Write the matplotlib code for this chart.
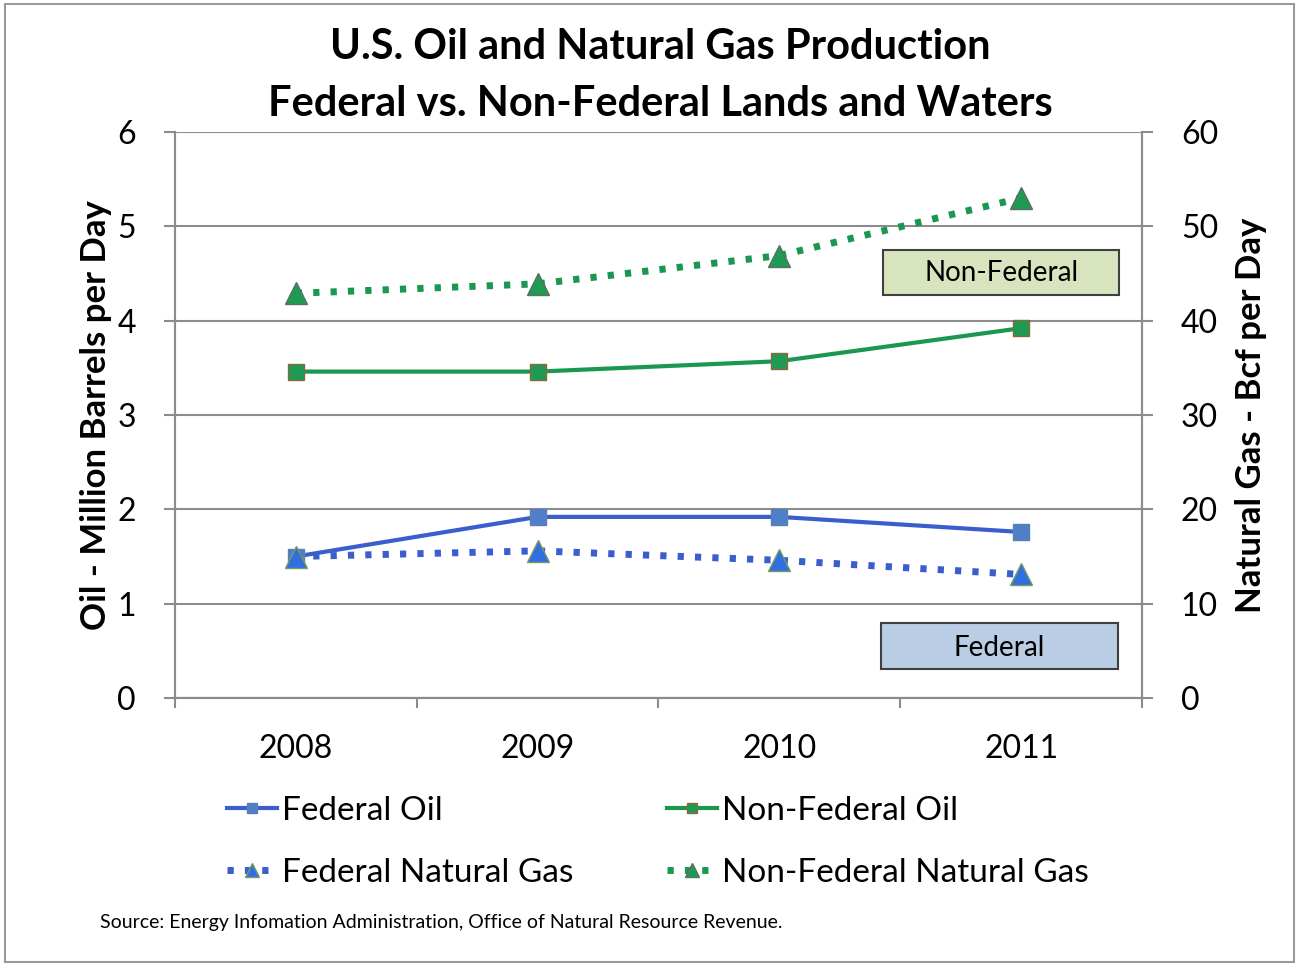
import numpy as np
import matplotlib.pyplot as plt
from matplotlib.patches import Rectangle

plt.rcParams['font.family'] = ['Lato', 'DejaVu Sans']

years = ['2008', '2009', '2010', '2011']
fed_oil = [1.50, 1.92, 1.92, 1.76]
nonfed_oil = [3.46, 3.46, 3.57, 3.92]
fed_gas = [15.0, 15.6, 14.6, 13.1]
nonfed_gas = [42.9, 43.9, 46.9, 53.0]

blue = '#3a5fcd'
blue_mk = '#4f7fc8'
green = '#1a9850'
green_mk = '#1f9a55'
grid_c = '#8c8c8c'

fig = plt.figure(figsize=(12.99, 9.66), dpi=100)
ax = fig.add_axes([0.1347, 0.2774, 0.7444, 0.586])
ax2 = ax.twinx()

x = np.arange(len(years))

l1, = ax.plot(x, fed_oil, color=blue, lw=3, marker='s', ms=11,
              mfc=blue_mk, mec='#5a7fb0', label='Federal Oil', zorder=4)
l2, = ax.plot(x, nonfed_oil, color=green, lw=3, marker='s', ms=11,
              mfc=green_mk, mec='#8a6a3a', label='Non-Federal Oil', zorder=4)
l3, = ax2.plot(x, fed_gas, color=blue, lw=5, ls=(0, (0.9, 1.6)), marker='^', ms=16,
               mfc='#2f6fe0', mec='#7a9a60', label='Federal Natural Gas', zorder=4)
l4, = ax2.plot(x, nonfed_gas, color=green, lw=5, ls=(0, (0.9, 1.6)), marker='^', ms=16,
               mfc=green_mk, mec='#5a7060', label='Non-Federal Natural Gas', zorder=4)

ax.set_xlim(-0.5, 3.5)
ax.set_ylim(0, 6)
ax2.set_ylim(0, 60)
ax.set_yticks(range(0, 7))
ax2.set_yticks(range(0, 70, 10))
ax.set_xticks(x)
ax.set_xticklabels(years)
ax.set_xticks(np.arange(-0.5, 4, 1), minor=True)
ax.tick_params(axis='x', which='major', length=0, labelsize=23, pad=26)
ax.tick_params(axis='x', which='minor', length=7, color=grid_c, width=1.5)
ax.tick_params(axis='y', length=8, color=grid_c, width=1.5, labelsize=23, pad=20)
ax2.tick_params(axis='y', length=8, color=grid_c, width=1.5, labelsize=23, pad=20)

ax.grid(axis='y', color=grid_c, lw=1.5)
ax.set_axisbelow(True)
for a in (ax, ax2):
    a.spines['top'].set_visible(False)
    for s in ('left', 'right', 'bottom'):
        a.spines[s].set_color(grid_c)
        a.spines[s].set_linewidth(1.5)

ax.set_ylabel('Oil - Million Barrels per Day', fontsize=25, fontweight='bold', labelpad=4)
ax2.set_ylabel('Natural Gas - Bcf per Day', fontsize=25, fontweight='bold', labelpad=12)

fig.text(0.508, 0.951, 'U.S. Oil and Natural Gas Production', ha='center', va='center',
         fontsize=30, fontweight='bold')
fig.text(0.508, 0.892, 'Federal vs. Non-Federal Lands and Waters', ha='center', va='center',
         fontsize=30, fontweight='bold')

ax.add_patch(Rectangle((2.43, 4.27), 0.975, 0.48, facecolor='#d7e4bd', edgecolor='#404040',
                       lw=1.5, zorder=5))
ax.text(2.918, 4.51, 'Non-Federal', fontsize=20, ha='center', va='center', zorder=6)
ax.add_patch(Rectangle((2.42, 0.31), 0.98, 0.48, facecolor='#b9cde5', edgecolor='#404040',
                       lw=1.5, zorder=5))
ax.text(2.91, 0.53, 'Federal', fontsize=20, ha='center', va='center', zorder=6)

fig.legend([l1, l3, l2, l4],
           ['Federal Oil', 'Federal Natural Gas', 'Non-Federal Oil', 'Non-Federal Natural Gas'],
           ncol=2, loc='upper left', bbox_to_anchor=(0.152, 0.207), frameon=False,
           fontsize=24, handlelength=1.5, columnspacing=2.8, labelspacing=0.95,
           handletextpad=0.15, markerscale=0.65)

fig.text(0.077, 0.045, 'Source: Energy Infomation Administration, Office of Natural Resource Revenue.',
         fontsize=14, ha='left', va='center')

fig.patches.append(Rectangle((0.004, 0.004), 0.992, 0.992, transform=fig.transFigure,
                             fill=False, edgecolor='#9a9a9a', lw=1.5))

fig.savefig('out.png', dpi=100)
